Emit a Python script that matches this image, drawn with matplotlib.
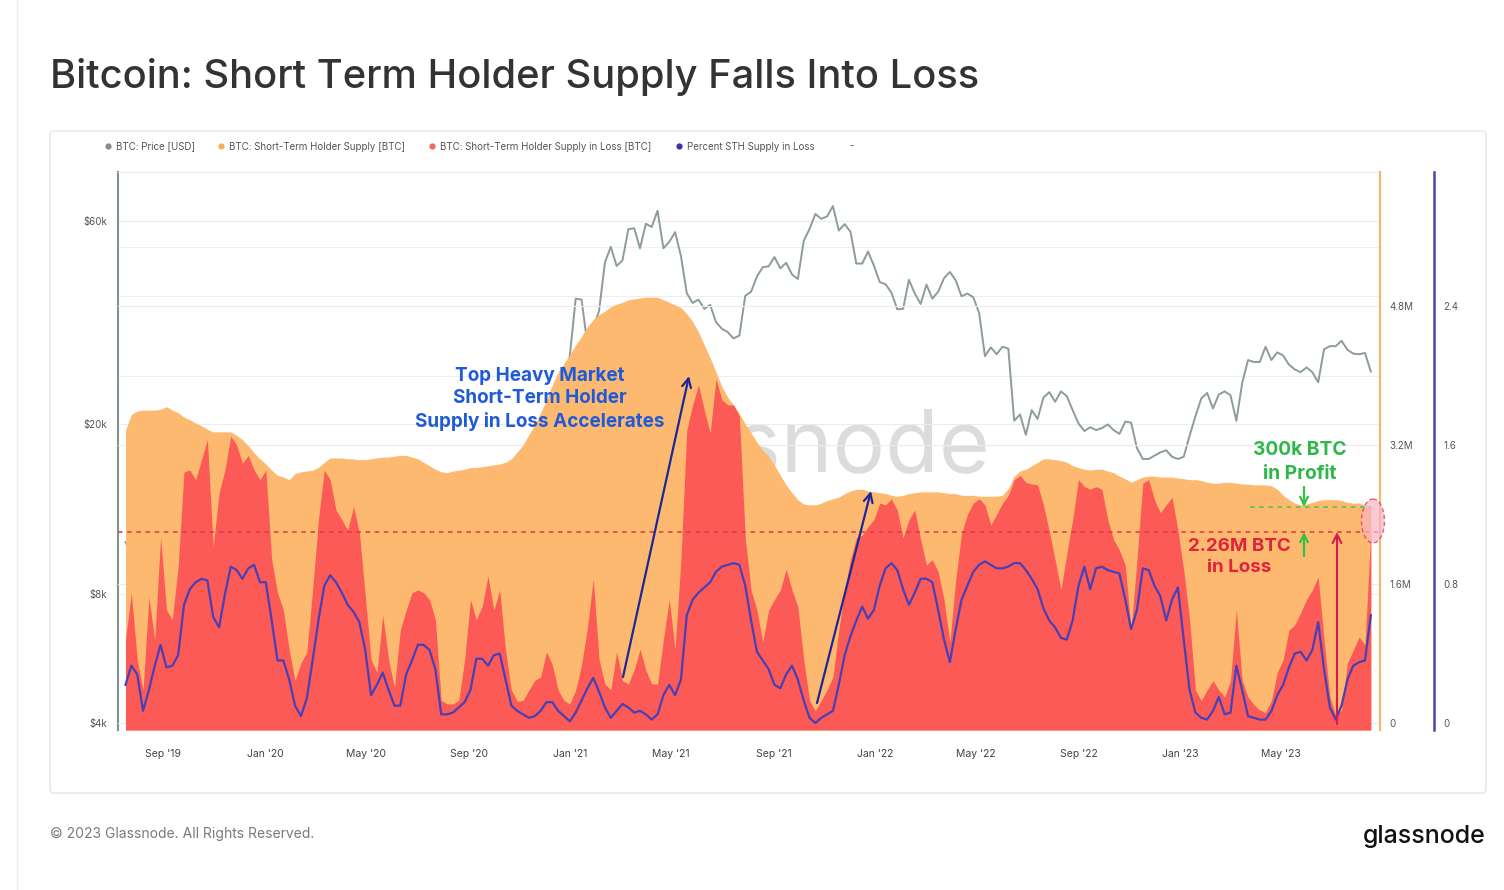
import matplotlib
matplotlib.use('Agg')
import matplotlib.pyplot as plt
from matplotlib.patches import FancyBboxPatch, Ellipse
from matplotlib.ticker import NullLocator
import pandas as pd

plt.rcParams['font.family'] = ['Inter', 'DejaVu Sans']

# weekly samples (Thursdays), 18 Jul 2019 -> 17 Aug 2023
dates = pd.date_range('2019-07-18', periods=214, freq='7D')

price_usd = [
    10600, 9900, 10400, 11900, 10300, 10100, 9500, 10600, 10350, 10150, 8100, 8250,
    8600, 8000, 7450, 9150, 9200, 8650, 7600, 7500, 7500, 7200, 7150, 7200,
    # 2020
    6950, 7800, 8750, 8400, 9500, 9750, 10250, 9600, 8800, 9050, 4900, 6200, 6700,
    6800, 7300, 7100, 7500, 8650, 9950, 9800, 9050, 9550, 9800, 9300, 9400, 9250,
    9100, 9250, 9150, 9600, 11100, 11750, 11750, 11850, 11350, 10200, 10350, 10950,
    10750, 10600, 10900, 11500, 12950, 13450, 15600, 16300, 17800, 17150, 19450,
    18250, 22800, 23700, 29000,
    # 2021
    39400, 39200, 30800, 33500, 36900, 47900, 52100, 47000, 48400, 57300, 57600,
    51700, 59000, 58000, 63300, 51700, 53500, 56400, 49600, 40600, 38500, 39200,
    37300, 38100, 34700, 33500, 32900, 31800, 32300, 40000, 40900, 44400, 46700,
    46900, 49300, 46400, 47800, 44900, 43800, 53800, 57400, 62200, 60600, 61400,
    64900, 56900, 58900, 56500, 47600, 47600, 50800, 47100,
    # 2022
    43100, 42600, 40700, 37200, 37300, 43600, 40500, 38300, 42500, 39400, 40900,
    44000, 45500, 43500, 39900, 40500, 39700, 36500, 28900, 30300, 29200, 30400,
    30100, 20400, 21100, 18900, 21600, 20600, 23100, 23800, 22600, 23900, 23300,
    21600, 20100, 19300, 19700, 19400, 19600, 20000, 19400, 19000, 20300, 20200,
    17600, 16600, 16600, 16900, 17200, 17400, 16800, 16600,
    # 2023
    16800, 18800, 20900, 23000, 23700, 21800, 23500, 23900, 23400, 20400, 25000,
    28300, 28000, 28000, 30400, 28300, 29500, 29000, 27600, 26900, 26500, 27200,
    26500, 25100, 30000, 30500, 30500, 31400, 29900, 29300, 29200, 29400, 26600,
]

# short-term holder supply, million BTC
sth_supply_m = [
    3.37, 3.55, 3.59, 3.60, 3.60, 3.60, 3.61, 3.64, 3.60, 3.57,
    3.52, 3.49, 3.45, 3.42, 3.38, 3.35, 3.35, 3.35, 3.35, 3.31,
    3.26, 3.19, 3.11, 3.04, 2.98, 2.91, 2.85, 2.83, 2.80, 2.87,
    2.89, 2.90, 2.91, 2.94, 3.00, 3.05, 3.05, 3.05, 3.04, 3.04,
    3.03, 3.03, 3.04, 3.05, 3.06, 3.06, 3.07, 3.08, 3.08, 3.06,
    3.04, 3.00, 2.96, 2.92, 2.89, 2.88, 2.90, 2.91, 2.92, 2.94,
    2.94, 2.95, 2.96, 2.97, 2.98, 3.00, 3.04, 3.12, 3.20, 3.32,
    3.43, 3.57, 3.72, 3.89, 4.04, 4.14, 4.24, 4.35, 4.45, 4.56,
    4.64, 4.70, 4.74, 4.79, 4.82, 4.84, 4.87, 4.88, 4.89, 4.90,
    4.90, 4.90, 4.87, 4.84, 4.81, 4.78, 4.71, 4.62, 4.50, 4.35,
    4.20, 4.04, 3.87, 3.75, 3.66, 3.56, 3.44, 3.34, 3.23, 3.14,
    3.07, 2.97, 2.85, 2.74, 2.65, 2.57, 2.52, 2.51, 2.51, 2.53,
    2.56, 2.58, 2.60, 2.64, 2.67, 2.69, 2.69, 2.67, 2.66, 2.65,
    2.64, 2.62, 2.61, 2.62, 2.64, 2.65, 2.66, 2.66, 2.66, 2.66,
    2.65, 2.64, 2.64, 2.62, 2.62, 2.62, 2.61, 2.61, 2.61, 2.61,
    2.62, 2.70, 2.84, 2.90, 2.92, 2.96, 3.00, 3.04, 3.04, 3.03,
    3.02, 3.00, 2.96, 2.94, 2.92, 2.91, 2.92, 2.92, 2.90, 2.88,
    2.84, 2.81, 2.77, 2.80, 2.83, 2.84, 2.84, 2.83, 2.83, 2.83,
    2.82, 2.81, 2.80, 2.80, 2.79, 2.77, 2.76, 2.76, 2.77, 2.77,
    2.76, 2.75, 2.75, 2.74, 2.74, 2.74, 2.73, 2.69, 2.62, 2.57,
    2.53, 2.51, 2.52, 2.54, 2.56, 2.57, 2.57, 2.57, 2.56, 2.54,
    2.53, 2.53, 2.51, 2.49,
]

# short-term holder supply in loss, million BTC
sth_loss_m = [
    0.96, 1.50, 0.73, 0.38, 1.45, 0.96, 2.14, 1.30, 1.19, 1.80,
    2.89, 2.91, 2.80, 3.03, 3.26, 2.03, 2.65, 2.91, 3.30, 3.20,
    2.99, 3.08, 2.91, 2.80, 2.91, 1.88, 1.50, 1.30, 0.84, 0.49,
    0.69, 0.81, 1.53, 2.34, 2.91, 2.80, 2.45, 2.34, 2.22, 2.49,
    2.19, 1.47, 0.73, 0.58, 1.24, 0.73, 0.41, 1.07, 1.30, 1.50,
    1.53, 1.50, 1.42, 1.19, 0.26, 0.22, 0.22, 0.26, 0.73, 1.42,
    1.19, 1.34, 1.69, 1.30, 1.53, 0.84, 0.38, 0.25, 0.26, 0.38,
    0.49, 0.53, 0.82, 0.67, 0.38, 0.26, 0.22, 0.38, 0.67, 1.09,
    1.66, 0.73, 0.45, 0.38, 0.82, 0.49, 0.45, 0.61, 0.85, 0.61,
    0.45, 0.45, 0.96, 1.42, 0.85, 1.88, 3.37, 3.66, 3.89, 3.60,
    3.34, 3.96, 3.72, 3.66, 3.66, 3.53, 2.13, 1.53, 1.30, 0.93,
    1.30, 1.42, 1.53, 1.77, 1.53, 1.34, 0.73, 0.26, 0.14, 0.26,
    0.38, 0.53, 1.07, 1.53, 1.88, 2.13, 2.16, 2.26, 2.34, 2.53,
    2.51, 2.58, 2.45, 2.13, 2.34, 2.45, 2.11, 1.82, 1.88, 1.74,
    1.42, 0.93, 1.65, 2.18, 2.40, 2.53, 2.58, 2.51, 2.28, 2.40,
    2.53, 2.62, 2.80, 2.85, 2.77, 2.75, 2.74, 2.51, 2.21, 1.88,
    1.53, 1.95, 2.34, 2.80, 2.72, 2.69, 2.72, 2.69, 2.34, 2.11,
    1.99, 1.82, 1.07, 1.88, 2.76, 2.80, 2.57, 2.42, 2.51, 2.60,
    2.22, 1.76, 1.19, 0.38, 0.26, 0.38, 0.49, 0.38, 0.30, 0.49,
    1.30, 0.49, 0.30, 0.21, 0.15, 0.12, 0.26, 0.58, 0.73, 1.07,
    1.13, 1.27, 1.42, 1.53, 1.68, 0.96, 0.30, 0.09, 0.15, 0.69,
    0.84, 0.99, 0.90, 2.20,
]

# percent of STH supply in loss
pct_in_loss = [
    0.22, 0.33, 0.28, 0.07, 0.19, 0.33, 0.45, 0.32, 0.33, 0.39,
    0.68, 0.77, 0.81, 0.83, 0.82, 0.61, 0.55, 0.74, 0.90, 0.88,
    0.83, 0.89, 0.91, 0.81, 0.81, 0.59, 0.36, 0.36, 0.25, 0.10,
    0.04, 0.14, 0.36, 0.59, 0.79, 0.85, 0.81, 0.75, 0.68, 0.64,
    0.58, 0.42, 0.16, 0.22, 0.29, 0.19, 0.10, 0.10, 0.28, 0.36,
    0.45, 0.45, 0.42, 0.31, 0.05, 0.05, 0.06, 0.09, 0.12, 0.19,
    0.37, 0.37, 0.33, 0.39, 0.40, 0.25, 0.10, 0.07, 0.05, 0.03,
    0.04, 0.07, 0.12, 0.12, 0.07, 0.04, 0.01, 0.06, 0.13, 0.20,
    0.26, 0.18, 0.09, 0.03, 0.07, 0.11, 0.09, 0.06, 0.07, 0.05,
    0.02, 0.05, 0.16, 0.22, 0.16, 0.25, 0.62, 0.71, 0.75, 0.78,
    0.81, 0.87, 0.90, 0.91, 0.92, 0.91, 0.79, 0.59, 0.41, 0.36,
    0.31, 0.22, 0.20, 0.28, 0.33, 0.25, 0.13, 0.03, 0.00, 0.03,
    0.05, 0.07, 0.22, 0.39, 0.50, 0.59, 0.67, 0.60, 0.65, 0.79,
    0.89, 0.92, 0.88, 0.77, 0.68, 0.75, 0.83, 0.83, 0.81, 0.65,
    0.48, 0.35, 0.54, 0.71, 0.79, 0.87, 0.91, 0.93, 0.91, 0.89,
    0.89, 0.90, 0.92, 0.92, 0.88, 0.83, 0.77, 0.66, 0.59, 0.55,
    0.49, 0.48, 0.59, 0.79, 0.90, 0.77, 0.89, 0.90, 0.88, 0.87,
    0.86, 0.71, 0.54, 0.65, 0.89, 0.88, 0.79, 0.73, 0.59, 0.71,
    0.78, 0.48, 0.19, 0.06, 0.03, 0.02, 0.07, 0.15, 0.05, 0.06,
    0.33, 0.19, 0.04, 0.03, 0.02, 0.02, 0.07, 0.16, 0.22, 0.32,
    0.40, 0.41, 0.36, 0.42, 0.58, 0.31, 0.09, 0.02, 0.10, 0.25,
    0.33, 0.35, 0.36, 0.62,
]

assert len(price_usd) == len(sth_supply_m) == len(sth_loss_m) == len(pct_in_loss) == len(dates)

x_tick_dates = ['2019-09-01', '2020-01-01', '2020-05-01', '2020-09-01', '2021-01-01',
                '2021-05-01', '2021-09-01', '2022-01-01', '2022-05-01', '2022-09-01',
                '2023-01-01', '2023-05-01']
x_tick_labels = ["Sep '19", "Jan '20", "May '20", "Sep '20", "Jan '21", "May '21",
                 "Sep '21", "Jan '22", "May '22", "Sep '22", "Jan '23", "May '23"]
price_ticks = [4000, 8000, 20000, 60000]
price_labels = ['$4k', '$8k', '$20k', '$60k']
supply_ticks = [0, 1.6, 3.2, 4.8]
supply_labels = ['0', '1.6M', '3.2M', '4.8M']
pct_ticks = [0, 0.8, 1.6, 2.4]
pct_labels = ['0', '0.8', '1.6', '2.4']

loss_level = 2.2      # "2.26M BTC in Loss"
profit_level = 2.49   # top of the 300k band
profit_from = '2023-03-25'

# colours
C_PRICE = '#8d9c96'
C_SUPPLY = '#fcb96f'
C_LOSS = '#fb5a56'
C_PCT = '#4a3fb4'
C_TEXT = '#555555'

W, H = 1504, 890
fig = plt.figure(figsize=(W / 100, H / 100), dpi=100)
fig.patch.set_facecolor('white')

ax = fig.add_axes([118 / W, 1 - 730 / H, 1262 / W, 558 / H])
ax2 = ax.twinx()
ax3 = ax.twinx()

# ---- price (log, left) ----
ax.set_yscale('log')
ax.set_ylim(3850, 78000)
ax.plot(dates, price_usd, color=C_PRICE, lw=1.4, zorder=2)
ax.set_yticks(price_ticks)
ax.set_yticklabels(price_labels)
ax.yaxis.set_minor_locator(NullLocator())
ax.grid(axis='y', color='#ececec', lw=0.8, zorder=0)
for g in (26000, 40000, 52000):
    ax.axhline(g, color='#eeeeee', lw=0.8, zorder=0)
ax.set_xlim(pd.Timestamp('2019-07-09'), pd.Timestamp('2023-08-28'))
ax.set_xticks(pd.to_datetime(x_tick_dates))
ax.set_xticklabels(x_tick_labels)
ax.tick_params(axis='x', length=0, pad=14, labelsize=7.5, labelcolor='#444444')
ax.tick_params(axis='y', length=0, pad=8, labelsize=7, labelcolor=C_TEXT)
for s in ['right', 'bottom']:
    ax.spines[s].set_visible(False)
ax.spines['top'].set_color('#ececec')
ax.spines['left'].set_color('#7f938a')
ax.spines['left'].set_linewidth(1.5)

# watermark (behind the areas)
ax.text(990 / W, 1 - 450 / H, 'glassnode', transform=fig.transFigure, ha='right',
        va='center', fontsize=63, color='#dcdcdc', zorder=0.5)

# ---- STH supply / supply in loss (right) ----
lo2, hi2 = -0.08, 6.34
ax2.set_ylim(lo2, hi2)
ax2.set_axisbelow(True)
ax2.fill_between(dates, lo2, sth_supply_m, color=C_SUPPLY, lw=0, zorder=1)
ax2.fill_between(dates, lo2, sth_loss_m, color=C_LOSS, lw=0, zorder=2)
ax2.axhline(loss_level, color='#e2354a', ls=(0, (3, 3)), lw=1.1, zorder=3)
ax2.hlines(profit_level, pd.Timestamp(profit_from), dates[-1], color='#49c44a',
           ls=(0, (3, 3)), lw=1.1, zorder=3)
ax2.set_yticks(supply_ticks)
ax2.set_yticklabels(supply_labels)
ax2.grid(axis='y', color='#ececec', lw=0.8)
ax2.tick_params(axis='y', length=0, pad=6.5, labelsize=7, labelcolor=C_TEXT)
for s in ['left', 'top', 'bottom']:
    ax2.spines[s].set_visible(False)
ax2.spines['right'].set_color('#f3b767')
ax2.spines['right'].set_linewidth(1.5)

# ---- percent in loss (far right) ----
lo3, hi3 = lo2 / 2, hi2 / 2
ax3.set_ylim(lo3, hi3)
ax3.plot(dates, pct_in_loss, color=C_PCT, lw=1.6, zorder=3)
ax3.set_yticks(pct_ticks)
ax3.set_yticklabels(pct_labels)
ax3.tick_params(axis='y', length=0, pad=6.5, labelsize=7, labelcolor=C_TEXT)
ax3.spines['right'].set_position(('outward', 39))
for s in ['left', 'top', 'bottom']:
    ax3.spines[s].set_visible(False)
ax3.spines['right'].set_color('#4b45a6')
ax3.spines['right'].set_linewidth(1.8)

# ---- decoration layer in pixel coordinates ----
deco = fig.add_axes([0, 0, 1, 1], zorder=10)
deco.set_xlim(0, W)
deco.set_ylim(H, 0)
deco.axis('off')

deco.plot([17, 17], [0, H], color='#eeeeee', lw=1)
deco.add_patch(FancyBboxPatch((50, 131), 1436, 662, boxstyle='round,pad=0,rounding_size=4',
                              fc='none', ec='#e6e6e6', lw=1))

deco.text(50, 77, 'Bitcoin: Short Term Holder Supply Falls Into Loss', ha='left', va='center',
          fontsize=28.7, color='#333333', fontweight='medium')
deco.text(50, 834, '\u00a9 2023 Glassnode. All Rights Reserved.', ha='left', va='center',
          fontsize=10, color='#7a7a7a')
deco.text(1486, 836, 'glassnode', ha='right', va='center', fontsize=18, color='#111111',
          fontweight='medium')

# legend
legend_items = [
    (108, '#8a8a8a', 'BTC: Price [USD]'),
    (221, '#f2b35d', 'BTC: Short-Term Holder Supply [BTC]'),
    (432, '#ee6a6a', 'BTC: Short-Term Holder Supply in Loss [BTC]'),
    (679, '#3b32a8', 'Percent STH Supply in Loss'),
]
for lx, col, lab in legend_items:
    deco.plot(lx, 146, 'o', ms=4.5, color=col, mec='none')
    deco.text(lx + 8, 146.5, lab, ha='left', va='center', fontsize=7, color=C_TEXT)
deco.text(852, 146.5, '-', ha='center', va='center', fontsize=7, color=C_TEXT)

# annotations
deco.text(540, 399, 'Top Heavy Market\nShort-Term Holder\nSupply in Loss Accelerates',
          ha='center', va='center', fontsize=13.6, fontweight='bold', color='#1f5bd6',
          linespacing=1.3)
arrow_blue = dict(arrowstyle='->', color='#1d279a', lw=1.6, mutation_scale=16,
                  shrinkA=0, shrinkB=0)
deco.annotate('', xy=(689, 376), xytext=(623, 677), arrowprops=arrow_blue)
deco.annotate('', xy=(871, 491), xytext=(817, 703), arrowprops=arrow_blue)

deco.text(1300, 462, '300k BTC\nin Profit', ha='center', va='center', fontsize=13.8,
          fontweight='bold', color='#2fb84a', linespacing=1.38)
arrow_green = dict(arrowstyle='->', color='#33c043', lw=1.6, mutation_scale=14,
                   shrinkA=0, shrinkB=0)
deco.annotate('', xy=(1304, 507), xytext=(1304, 487), arrowprops=arrow_green)
deco.annotate('', xy=(1304, 532), xytext=(1304, 556), arrowprops=arrow_green)

deco.text(1239, 557, '2.26M BTC\nin Loss', ha='center', va='center', fontsize=13.5,
          fontweight='bold', color='#e2213f', linespacing=1.38)
deco.annotate('', xy=(1337, 532), xytext=(1337, 724),
              arrowprops=dict(arrowstyle='->', color='#d81b4a', lw=1.5, mutation_scale=16,
                              shrinkA=0, shrinkB=0))
deco.add_patch(Ellipse((1373, 521), 23, 44, fc='#f8b4c2', ec='#d32a5c', ls=(0, (3, 2)),
                       lw=1.0, alpha=0.7))

fig.savefig('out.png', dpi=100, facecolor='white')
